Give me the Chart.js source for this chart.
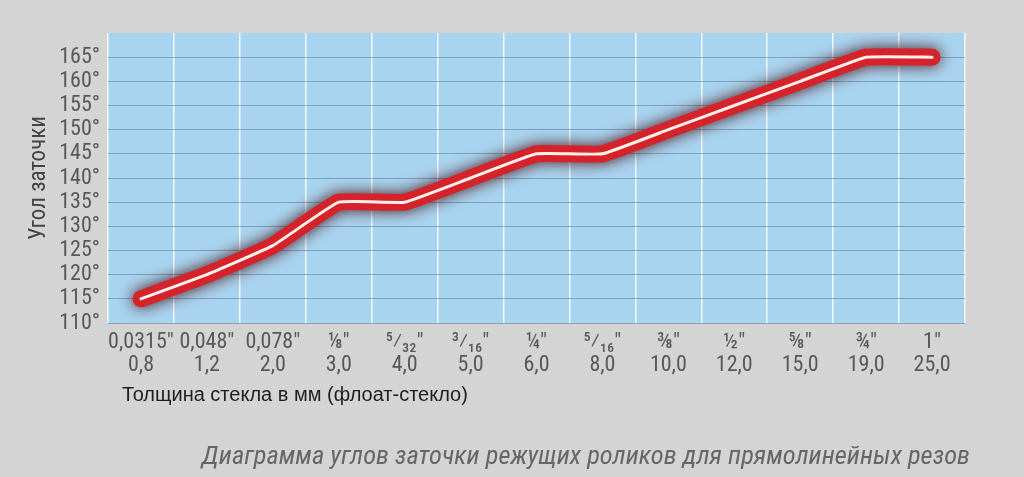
<!DOCTYPE html>
<html>
<head>
<meta charset="utf-8">
<script src="https://cdn.jsdelivr.net/npm/chart.js@4/dist/chart.umd.min.js"></script>
<style>
  html, body { margin: 0; padding: 0; background: #d4d4d4; }
  #wrap { width: 1024px; height: 477px; position: relative; }
</style>
</head>
<body>
<div id="wrap"><canvas id="angleChart"></canvas></div>
<script>
// данные диаграммы
const inchLabels = ["0,0315″", "0,048″", "0,078″", "⅛″", "⁵⁄₃₂″", "³⁄₁₆″", "¼″", "⁵⁄₁₆″", "⅜″", "½″", "⅝″", "¾″", "1″"];
const mmLabels = ["0,8", "1,2", "2,0", "3,0", "4,0", "5,0", "6,0", "8,0", "10,0", "12,0", "15,0", "19,0", "25,0"];
const angles = [115, 120, 126, 135, 135, 140, 145, 145, 150, 155, 160, 165, 165];

const yTitle = "Угол заточки";
const xTitle = "Толщина стекла в мм (флоат-стекло)";
const caption = "Диаграмма углов заточки режущих роликов для прямолинейных резов";

const narrow = "'Roboto Condensed', 'Liberation Sans Narrow', Roboto, sans-serif";

const labels = inchLabels.map((s, i) => [s, mmLabels[i]]);

const plotBg = {
    id: "plotBg",
    beforeDraw(chart) {
        const { ctx, chartArea: a } = chart;
        ctx.save();
        ctx.fillStyle = "#a9d4f0";
        ctx.fillRect(a.left, a.top, a.right - a.left, a.bottom - a.top);
        ctx.restore();
    },
};

// свечение вокруг красной линии (датасет 1 рисуется снизу)
const glow = {
    id: "glow",
    beforeDatasetDraw(chart, args) {
        const ctx = chart.ctx;
        ctx.save();
        if (args.index === 1) {
            ctx.shadowColor = "rgba(70,10,10,0.95)";
            ctx.shadowBlur = 15;
        }
    },
    afterDatasetDraw(chart) {
        chart.ctx.restore();
    },
};

const texts = {
    id: "texts",
    afterDraw(chart) {
        const ctx = chart.ctx;
        ctx.save();
        ctx.fillStyle = "#1e1e1e";
        ctx.font = "20px 'Liberation Sans', Arial, sans-serif";
        ctx.textBaseline = "middle";
        ctx.textAlign = "left";
        ctx.fillText(xTitle, 122, 395);
        ctx.fillStyle = "#666";
        ctx.font = "italic 26.5px " + narrow;
        ctx.textAlign = "right";
        ctx.fillText(caption, 970, 457);
        ctx.restore();
    },
};

const el = document.getElementById("angleChart");
new Chart(el, {
    type: "line",
    data: {
        labels: labels,
        datasets: [
            {
                data: angles,
                borderColor: "#fff0ea",
                borderWidth: 3,
                borderCapStyle: "round",
                borderJoinStyle: "round",
                tension: 0.1,
                pointRadius: 0,
            },
            {
                data: angles,
                borderColor: "#d6222a",
                borderWidth: 17,
                borderCapStyle: "round",
                borderJoinStyle: "round",
                tension: 0.1,
                pointRadius: 0,
            },
        ],
    },
    options: {
        responsive: true,
        maintainAspectRatio: false,
        animation: false,
        layout: { padding: { left: 0, right: 59, top: 33, bottom: 0 } },
        plugins: {
            legend: { display: false },
            tooltip: { enabled: false },
        },
        scales: {
            x: {
                offset: true,
                grid: { offset: true, color: "rgba(255,255,255,0.85)", lineWidth: 1.5, drawTicks: false },
                border: { display: false },
                ticks: {
                    color: "#585858",
                    padding: 8,
                    maxRotation: 0,
                    autoSkip: false,
                    font: { family: narrow, size: 22, lineHeight: 1.05 },
                },
                afterFit(scale) { scale.height = 154; },
            },
            y: {
                min: 110,
                max: 170,
                grid: {
                    color: (c) => (c.tick && c.tick.value >= 170 ? "rgba(0,0,0,0)" : "rgba(85,120,150,0.55)"),
                    lineWidth: 1,
                    drawTicks: false,
                },
                border: { display: false },
                ticks: {
                    stepSize: 5,
                    autoSkip: false,
                    color: "#585858",
                    padding: 8,
                    font: { family: narrow, size: 22, lineHeight: 1 },
                    callback: (v) => (v >= 170 ? "" : v + "°"),
                },
                title: {
                    display: true,
                    text: yTitle,
                    color: "#444",
                    padding: { top: 25, bottom: 0 },
                    font: { family: narrow, size: 23 },
                },
                afterFit(scale) { scale.width = 108; },
            },
        },
    },
    plugins: [plotBg, glow, texts],
});
</script>
</body>
</html>
